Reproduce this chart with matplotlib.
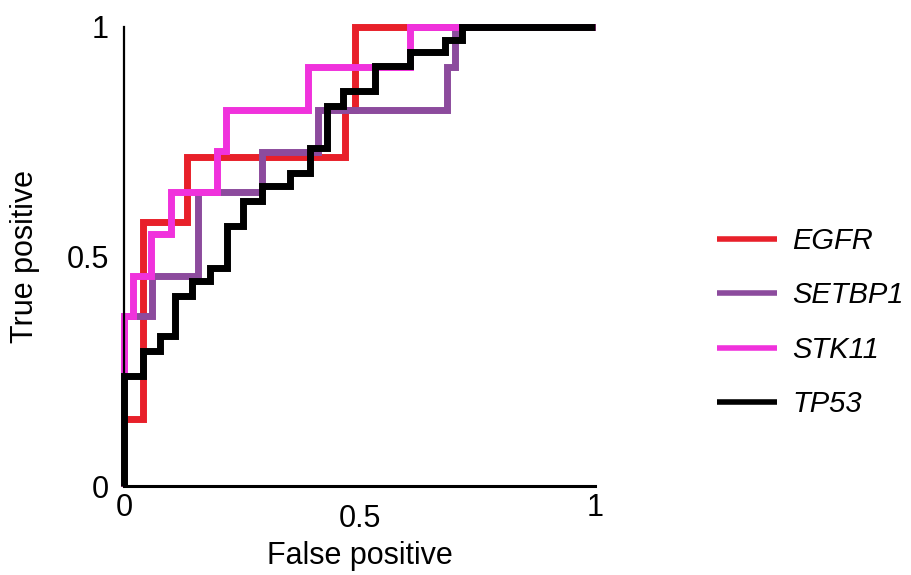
import matplotlib
matplotlib.use('Agg')
import matplotlib.pyplot as plt

plt.rcParams['font.family'] = ['Liberation Sans', 'DejaVu Sans']

# ROC corner points (false positive rate, true positive rate)
egfr_fpr = [0, 0, 0.04, 0.04, 0.134, 0.134, 0.47, 0.47, 0.49, 0.49, 1]
egfr_tpr = [0, 0.146, 0.146, 0.576, 0.576, 0.717, 0.717, 0.82, 0.82, 1, 1]

setbp1_fpr = [0, 0, 0.059, 0.059, 0.158, 0.158, 0.292, 0.292, 0.412, 0.412,
              0.685, 0.685, 0.703, 0.703, 1]
setbp1_tpr = [0, 0.37, 0.37, 0.457, 0.457, 0.64, 0.64, 0.728, 0.728, 0.82,
              0.82, 0.913, 0.913, 1, 1]

stk11_fpr = [0, 0, 0.019, 0.019, 0.057, 0.057, 0.10, 0.10, 0.197, 0.197,
             0.217, 0.217, 0.39, 0.39, 0.607, 0.607, 1]
stk11_tpr = [0, 0.37, 0.37, 0.457, 0.457, 0.55, 0.55, 0.64, 0.64, 0.73,
             0.73, 0.82, 0.82, 0.913, 0.913, 1, 1]

tp53_fpr = [0, 0, 0.041, 0.041, 0.076, 0.076, 0.108, 0.108, 0.144, 0.144,
            0.183, 0.183, 0.218, 0.218, 0.253, 0.253, 0.292, 0.292, 0.352, 0.352,
            0.395, 0.395, 0.430, 0.430, 0.466, 0.466, 0.533, 0.533, 0.607, 0.607,
            0.682, 0.682, 0.717, 0.717, 1]
tp53_tpr = [0, 0.24, 0.24, 0.294, 0.294, 0.327, 0.327, 0.414, 0.414, 0.446,
            0.446, 0.475, 0.475, 0.566, 0.566, 0.62, 0.62, 0.653, 0.653, 0.682,
            0.682, 0.736, 0.736, 0.827, 0.827, 0.86, 0.86, 0.914, 0.914, 0.946,
            0.946, 0.972, 0.972, 1, 1]

genes = ['EGFR', 'SETBP1', 'STK11', 'TP53']
colors = ['#e8202a', '#8c4b9d', '#f032dc', '#000000']
curves = [(egfr_fpr, egfr_tpr), (setbp1_fpr, setbp1_tpr),
          (stk11_fpr, stk11_tpr), (tp53_fpr, tp53_tpr)]

fig = plt.figure(figsize=(9.11, 5.75), dpi=100)
ax = fig.add_axes([124/911, 1 - 486/575, 471/911, 459/575])

for (x, y), c, g in zip(curves, colors, genes):
    ax.plot(x, y, color=c, lw=5, label=g, clip_on=False,
            solid_joinstyle='miter', solid_capstyle='butt')

ax.set_xlim(0, 1)
ax.set_ylim(0, 1)
for s in ['top', 'right']:
    ax.spines[s].set_visible(False)
ax.spines['left'].set_linewidth(1.6)
ax.spines['bottom'].set_linewidth(2.2)

ax.set_xticks([0, 0.5, 1], ['0', '0.5', '1'])
ax.set_yticks([0, 0.5, 1], ['0', '0.5', '1'])
ax.tick_params(length=0, labelsize=22, pad=5)
ax.tick_params(axis='y', pad=11)
ax.xaxis.get_major_ticks()[1].set_pad(13)

ax.set_xlabel('False positive', fontsize=22)
ax.set_ylabel('True positive', fontsize=22)
ax.xaxis.set_label_coords(0.5, -0.12)
ax.yaxis.set_label_coords(-0.178, 0.5)

leg = ax.legend(loc='center left', bbox_to_anchor=(1.259, 0.356), frameon=False,
                prop={'style': 'italic', 'size': 21}, handlelength=2.05,
                handletextpad=0.52, labelspacing=0.9, borderpad=0,
                borderaxespad=0)
for ln in leg.get_lines():
    ln.set_linewidth(4)

fig.savefig('out.png', dpi=100)
